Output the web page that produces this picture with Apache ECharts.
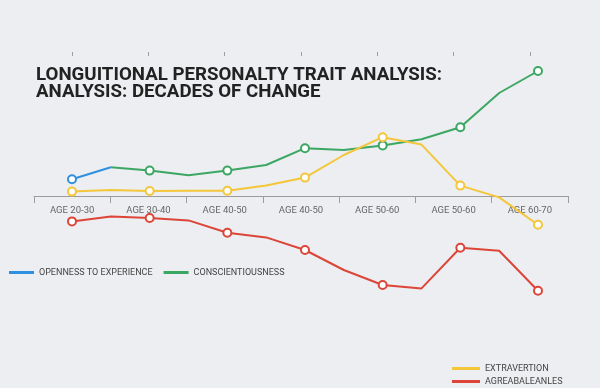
<!DOCTYPE html>
<html>
<head>
<meta charset="utf-8">
<script src="https://cdn.jsdelivr.net/npm/echarts@6/dist/echarts.min.js"></script>
<style>html,body{margin:0;padding:0;background:#eceef1;}#c{width:600px;height:388px;}</style>
</head>
<body>
<div id="c"></div>
<script>
var tickLabels = ['AGE 20-30', 'AGE 30-40', 'AGE 40-50', 'AGE 40-50', 'AGE 50-60', 'AGE 50-60', 'AGE 60-70'];
var pointAges = ['25', '30', '35', '40', '45', '50', '55', '60', '65', '70', '75', '80', '85'];
var openness = [8.4, 14.4, null, null, null, null, null, null, null, null, null, null, null];
var conscientiousness = [null, 14.4, 12.7, 10.4, 12.7, 15.5, 23.9, 23, 25.3, 28.4, 34.4, 51.5, 62.5];
var extravertion = [2.2, 3.0, 2.5, 2.6, 2.6, 5.2, 9.2, 20.5, 29.4, 25.7, 5.2, -0.7, -14.4];
var agreeableness = [-12.7, -10.2, -11, -12.2, -18.4, -20.7, -27, -37, -44.5, -46.2, -25.9, -27.4, -47.4];

var names = ['OPENNESS TO EXPERIENCE', 'CONSCIENTIOUSNESS', 'EXTRAVERTION', 'AGREABALEANLES'];
var colors = ['#2f8fe0', '#3ca763', '#f4c63a', '#dc4538'];
var values = [openness, conscientiousness, extravertion, agreeableness];

function markEven(v, p) { return p.dataIndex % 2 === 0 ? 'emptyCircle' : 'none'; }

var chart = echarts.init(document.getElementById('c'));
var axisColor = '#9c9c9c';
var legendText = { fontSize: 9, color: '#444' };
chart.setOption({
  backgroundColor: '#eceef1',
  animation: false,
  textStyle: { fontFamily: 'Roboto' },
  title: {
    text: 'LONGUITIONAL PERSONALTY TRAIT ANALYSIS:\nANALYSIS: DECADES OF CHANGE',
    left: 36, top: 67, padding: 0,
    textStyle: { fontSize: 18.7, fontWeight: 'bold', color: '#222', lineHeight: 17, fontFamily: 'Roboto' }
  },
  legend: [
    { data: [names[0], names[1]], left: 9, top: 268, padding: 0, orient: 'horizontal', icon: 'rect', itemWidth: 25, itemHeight: 3, itemGap: 11,
      textStyle: legendText },
    { data: [names[2]], left: 452, top: 364, padding: 0, icon: 'rect', itemWidth: 28, itemHeight: 3, textStyle: legendText },
    { data: [names[3]], left: 452, top: 377, padding: 0, icon: 'rect', itemWidth: 28, itemHeight: 3, textStyle: legendText }
  ],
  grid: [
    { left: 34, right: 32, top: 56, height: 140 },
    { left: 72, right: 62, top: 56, height: 260 }
  ],
  xAxis: [
    { gridIndex: 0, type: 'category', data: tickLabels, boundaryGap: true,
      axisLine: { show: true, lineStyle: { color: axisColor, width: 1 } },
      axisTick: { show: true, interval: 0, length: 7, lineStyle: { color: axisColor } },
      axisLabel: { fontSize: 9.5, color: '#666', margin: 10, interval: 0 } },
    { gridIndex: 1, type: 'category', data: pointAges, boundaryGap: false, show: false },
    { gridIndex: 0, type: 'category', data: tickLabels, boundaryGap: true,
      axisLine: { show: false },
      axisTick: { show: true, interval: 0, alignWithLabel: true, length: 4, lineStyle: { color: axisColor } },
      axisLabel: { show: false } }
  ],
  yAxis: [
    { gridIndex: 0, type: 'value', min: 0, max: 1, show: false },
    { gridIndex: 1, type: 'value', min: -60, max: 70, show: false }
  ],
  series: names.map(function (n, i) {
    return {
      name: n, type: 'line', xAxisIndex: 1, yAxisIndex: 1, data: values[i],
      symbol: markEven, symbolSize: 8, showAllSymbol: true,
      lineStyle: { color: colors[i], width: 2 },
      itemStyle: { color: colors[i], borderWidth: 2 }
    };
  })
});
</script>
</body>
</html>
